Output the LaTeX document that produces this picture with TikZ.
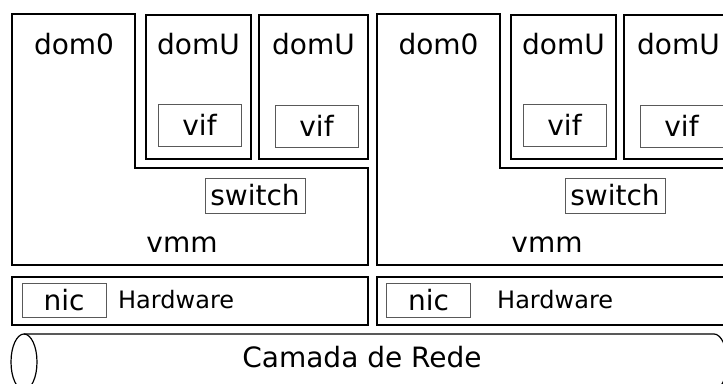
\documentclass[tikz,border=0pt]{standalone}
\usepackage{fontspec}
\setmainfont{DejaVu Sans}
\usetikzlibrary{positioning}

\begin{document}
\begin{tikzpicture}[
  x=1pt, y=-1pt,
  hostline/.style={draw=black, line width=1.2pt},
  domubox/.style={rectangle, hostline, minimum width=105pt, minimum height=144pt, inner sep=0pt},
  hwbox/.style={rectangle, hostline, minimum width=356pt, minimum height=48pt, inner sep=0pt},
  inbox/.style={rectangle, draw=black!65, line width=0.8pt, inner sep=0pt, font=\fontsize{28}{34}\selectfont},
  lbl/.style={inner sep=0pt, font=\fontsize{28}{34}\selectfont},
  hwlbl/.style={inner sep=0pt, font=\fontsize{24}{29}\selectfont}
]

\useasboundingbox (0,0) rectangle (723,383);
\clip (0,0) rectangle (723,383);

% First host
\draw[hostline] (12,14) -- (135,14) -- (135,168) -- (368,168) -- (368,265) -- (12,265) -- cycle;
\node[lbl, anchor=base] (dom0a) at (74,54) {dom0};
\node[domubox] (domUa1) at (198.5,87) {};
\node[domubox, minimum width=109pt] (domUa2) at (313.5,87) {};
\node[lbl, anchor=base] (domUtxta1) at (198.5,54) {domU};
\node[lbl, anchor=base] (domUtxta2) at (313.5,54) {domU};
\node[inbox, minimum width=83pt, minimum height=42pt, above=13pt of domUa1.south, xshift=1pt] (vifa1) {vif};
\node[inbox, minimum width=83pt, minimum height=42pt, above=12pt of domUa2.south, xshift=3pt] (vifa2) {vif};
\node[inbox, minimum width=100pt, minimum height=35pt] (switcha) at (255,195.5) {switch};
\node[lbl] (vmma) at (182,245) {vmm};
\node[hwbox] (hwa) at (190,301) {};
\node[inbox, minimum width=84pt, minimum height=34pt] (nica) at (64,300) {nic};
\node[hwlbl, anchor=base west] (hwtxta) at (118,308) {Hardware};

% Second host
\draw[hostline] (377,14) -- (500,14) -- (500,168) -- (733,168) -- (733,265) -- (377,265) -- cycle;
\node[lbl, anchor=base] (dom0b) at (438.5,54) {dom0};
\node[domubox] (domUb1) at (563.5,87) {};
\node[domubox, minimum width=109pt] (domUb2) at (678.5,87) {};
\node[lbl, anchor=base] (domUtxtb1) at (563.5,54) {domU};
\node[lbl, anchor=base] (domUtxtb2) at (678.5,54) {domU};
\node[inbox, minimum width=83pt, minimum height=42pt, above=13pt of domUb1.south, xshift=1pt] (vifb1) {vif};
\node[inbox, minimum width=83pt, minimum height=42pt, above=12pt of domUb2.south, xshift=3pt] (vifb2) {vif};
\node[inbox, minimum width=100pt, minimum height=35pt] (switchb) at (615,195.5) {switch};
\node[lbl] (vmmb) at (547,245) {vmm};
\node[hwbox] (hwb) at (555,301) {};
\node[inbox, minimum width=84pt, minimum height=34pt] (nicb) at (428.5,300) {nic};
\node[hwlbl, anchor=base west] (hwtxtb) at (497,308) {Hardware};

% Network layer
\draw[hostline] (24,362) ellipse [x radius=13, y radius=28];
\draw[hostline] (24,334) -- (714,334) arc [start angle=-90, end angle=90, x radius=13, y radius=28] -- (24,390);
\node[lbl, anchor=base] (rede) at (362,367) {Camada de Rede};

\end{tikzpicture}
\end{document}
